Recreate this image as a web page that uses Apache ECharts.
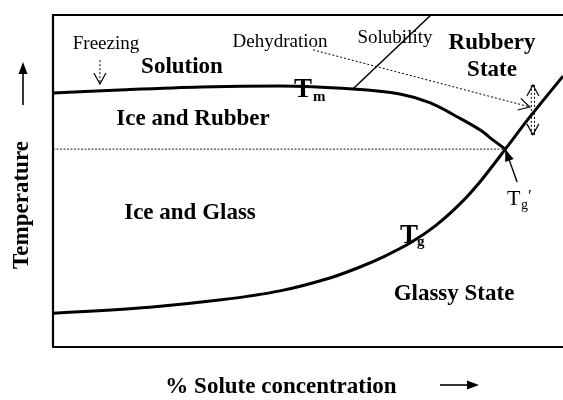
<!DOCTYPE html>
<html><head><meta charset="utf-8">
<script src="https://cdn.jsdelivr.net/npm/echarts@6/dist/echarts.min.js"></script>
<style>html,body{margin:0;padding:0;background:#fff}#c{width:563px;height:400px}</style>
</head><body><div id="c"></div>
<script>
// Glass transition curve Tg (x: % solute, y: relative temperature)
const tgConc = [0, 19, 33, 44.5, 54.3, 60.2, 65.1, 70, 74.9, 79.8, 83.7, 88.7, 93.5, 100];
const tgTemp = [10.2, 12, 14.2, 16.9, 20.8, 24.1, 27.4, 31.3, 36.4, 43.1, 49.7, 59.6, 69.3, 81.6];
// Melting / freezing curve Tm
const tmConc = [0, 13, 29, 44.5, 58.8, 68, 74, 80, 84, 86.3, 88.7];
const tmTemp = [76.5, 77.4, 78.3, 78.6, 77.7, 76.2, 73.5, 68.7, 65.1, 62.3, 59.6];
// Solubility line
const solConc = [58.8, 74.1];
const solTemp = [77.7, 100];
// Tg' level (dotted)
const tgPrimeConc = [0, 88.7];
const tgPrimeTemp = [59.6, 59.6];
// Arrows: [x1, y1, x2, y2]
const freezingArrow = [9.2, 86.4, 9.2, 79.2];
const dehydrationArrow = [51.0, 89.5, 93.5, 72.3];
const stateArrow = [94.1, 63.9, 94.1, 78.9];
const tgPrimeArrow = [91.0, 49.7, 88.7, 59.6];

const zip = (xs, ys) => xs.map((x, i) => [x, ys[i]]);
const SERIF = '"Liberation Serif", "Times New Roman", serif';

function arrowRender(o) {
  return function (params, api) {
    const a = api.coord([api.value(0), api.value(1)]);
    const b = api.coord([api.value(2), api.value(3)]);
    const dx = b[0] - a[0], dy = b[1] - a[1], L = Math.hypot(dx, dy);
    const ux = dx / L, uy = dy / L, nx = -uy, ny = ux;
    const children = [];
    const offs = o.double ? [-1.6, 1.6] : [0];
    offs.forEach(k => children.push({
      type: 'line',
      shape: { x1: a[0] + nx * k, y1: a[1] + ny * k, x2: b[0] + nx * k, y2: b[1] + ny * k },
      style: { stroke: '#000', lineWidth: o.lineWidth, lineDash: o.dash || null }
    }));
    function head(tip, ex, ey) {
      const bx = tip[0] - ex * o.headLen, by = tip[1] - ey * o.headLen;
      const p1 = [bx - ey * o.headWidth, by + ex * o.headWidth];
      const p2 = [bx + ey * o.headWidth, by - ex * o.headWidth];
      if (o.filled) children.push({ type: 'polygon', shape: { points: [p1, tip, p2] }, style: { fill: '#000' } });
      else children.push({ type: 'polyline', shape: { points: [p1, tip, p2] }, style: { stroke: '#000', lineWidth: 1.2, fill: null } });
    }
    head(b, ux, uy);
    if (o.both) head(a, -ux, -uy);
    return { type: 'group', children };
  };
}

const chart = echarts.init(document.getElementById('c'), null, { renderer: 'canvas' });
const hiddenAxis = {
  type: 'value', min: 0, max: 100,
  axisLabel: { show: false }, axisTick: { show: false }, splitLine: { show: false },
  axisLine: { show: true, lineStyle: { color: '#000', width: 2.2 } }
};
function txt(text, x, y, size, bold, extra) {
  return Object.assign({
    type: 'text', x, y, silent: true,
    style: { text, fontFamily: SERIF, fontSize: size, fontWeight: bold ? 'bold' : 'normal', fill: '#000', align: 'center', verticalAlign: 'middle' }
  }, extra || {});
}
function leftTxt(text, x, y, size, bold) {
  const t = txt(text, x, y, size, bold);
  t.style.align = 'left';
  return t;
}

chart.setOption({
  animation: false,
  backgroundColor: '#fff',
  grid: { left: 53, right: 0, top: 15, bottom: 53 },
  xAxis: [
    Object.assign({}, hiddenAxis, { position: 'bottom' }),
    Object.assign({}, hiddenAxis, { position: 'top' })
  ],
  yAxis: [Object.assign({}, hiddenAxis, { position: 'left' })],
  series: [
    { type: 'line', data: zip(tgConc, tgTemp), smooth: 0.3, symbol: 'none', lineStyle: { color: '#000', width: 3 }, clip: true },
    { type: 'line', data: zip(tmConc, tmTemp), smooth: 0.3, symbol: 'none', lineStyle: { color: '#000', width: 3 }, clip: true },
    { type: 'line', data: zip(solConc, solTemp), symbol: 'none', lineStyle: { color: '#000', width: 1.5 } },
    { type: 'line', data: zip(tgPrimeConc, tgPrimeTemp), symbol: 'none', lineStyle: { color: '#222', width: 1, type: [2, 1.5] } },
    { type: 'custom', coordinateSystem: 'cartesian2d', silent: true,
      renderItem: arrowRender({ lineWidth: 1, dash: [2, 2], headLen: 11, headWidth: 6 }),
      data: [freezingArrow, dehydrationArrow] },
    { type: 'custom', coordinateSystem: 'cartesian2d', silent: true,
      renderItem: arrowRender({ lineWidth: 1, dash: [2, 2], headLen: 11, headWidth: 6, double: true, both: true }),
      data: [stateArrow] },
    { type: 'custom', coordinateSystem: 'cartesian2d', silent: true,
      renderItem: arrowRender({ lineWidth: 1.4, headLen: 12, headWidth: 4.5, filled: true }),
      data: [tgPrimeArrow] }
  ],
  graphic: [
    txt('Freezing', 106, 44, 19, false),
    txt('Dehydration', 280, 42, 19, false),
    txt('Solubility', 395, 38, 19, false),
    txt('Solution', 182, 67, 23, true),
    txt('Rubbery', 492, 43, 23, true),
    txt('State', 492, 70, 23, true),
    txt('Ice and Rubber', 193, 119, 23, true),
    txt('Ice and Glass', 190, 213, 23, true),
    txt('Glassy State', 454, 294, 23, true),
    leftTxt('T', 294, 90, 27, true),
    leftTxt('m', 313, 97.5, 15, true),
    leftTxt('T', 400, 236, 27, true),
    leftTxt('g', 417, 242, 15, true),
    leftTxt('T', 507, 199.5, 22, false),
    leftTxt('g', 521, 205, 14, false),
    leftTxt('\u2032', 528, 197, 17, false),
    txt('Temperature', 22, 205, 23, true, { rotation: Math.PI / 2 }),
    txt('% Solute concentration', 281, 387, 23, true),
    { type: 'line', silent: true, shape: { x1: 23, y1: 105, x2: 23, y2: 72 }, style: { stroke: '#000', lineWidth: 1.6 } },
    { type: 'polygon', silent: true, shape: { points: [[18.5, 74], [23, 62], [27.5, 74]] }, style: { fill: '#000' } },
    { type: 'line', silent: true, shape: { x1: 440, y1: 385, x2: 468, y2: 385 }, style: { stroke: '#000', lineWidth: 1.6 } },
    { type: 'polygon', silent: true, shape: { points: [[467, 380.5], [479, 385], [467, 389.5]] }, style: { fill: '#000' } }
  ]
});
</script></body></html>
